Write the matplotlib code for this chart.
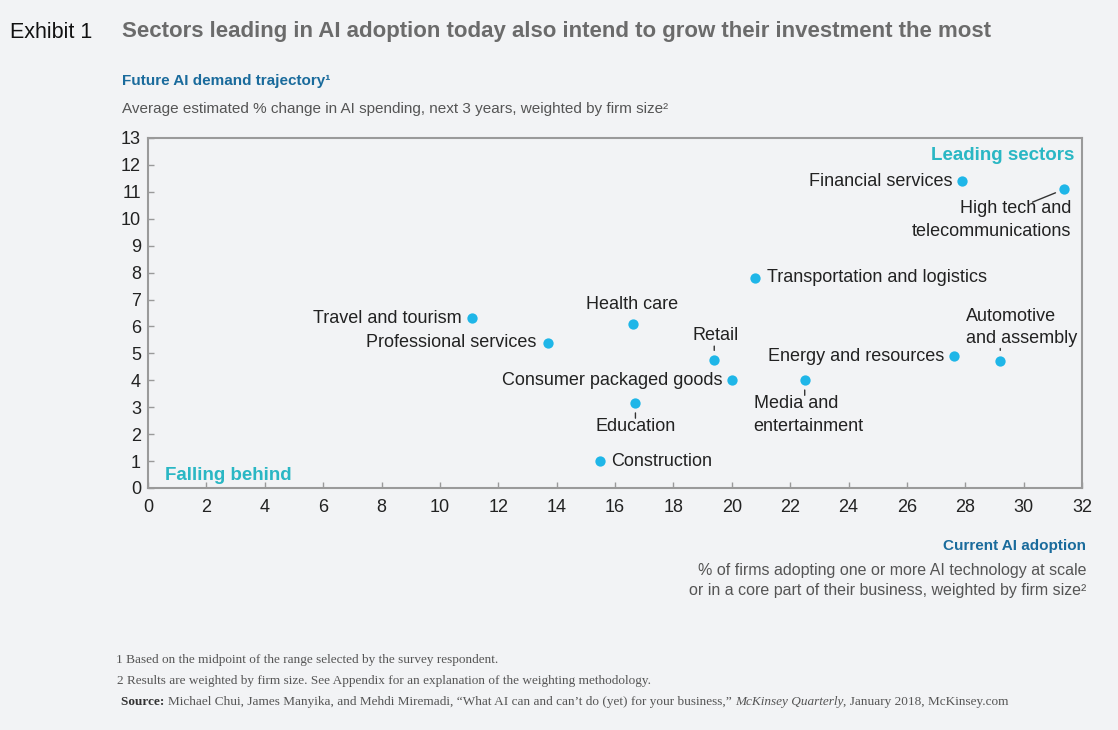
import matplotlib
matplotlib.use("Agg")
import matplotlib.pyplot as plt

# ---- data ----
sectors = ["Financial services", "High tech and\ntelecommunications",
           "Transportation and logistics", "Health care", "Travel and tourism",
           "Professional services", "Retail", "Consumer packaged goods",
           "Education", "Construction", "Media and\nentertainment",
           "Energy and resources", "Automotive\nand assembly"]
adoption = [27.9, 31.4, 20.8, 16.6, 11.1, 13.7, 19.4, 20.0, 16.7, 15.5, 22.5, 27.6, 29.2]
demand = [11.4, 11.1, 7.8, 6.1, 6.3, 5.4, 4.75, 4.0, 3.15, 1.0, 4.0, 4.9, 4.7]
x_ticks = list(range(0, 33, 2))
y_ticks = list(range(0, 14))

# label placement: (dx px, dy px, ha, va, leader line (x0,y0,x1,y1) px or None)
placement = {
    "Financial services": (-10, 0, "right", "center", None),
    "High tech and\ntelecommunications": (7, -11, "right", "top", (-7, -2, -32, -13)),
    "Transportation and logistics": (12, 0, "left", "center", None),
    "Health care": (0, 19, "center", "center", None),
    "Travel and tourism": (-10, 0, "right", "center", None),
    "Professional services": (-11, 0, "right", "center", None),
    "Retail": (1, 25, "center", "center", (0, 7, 0, 14)),
    "Consumer packaged goods": (-9, 0, "right", "center", None),
    "Education": (0, -23, "center", "center", (0, -7, 0, -15)),
    "Construction": (11, 0, "left", "center", None),
    "Media and\nentertainment": (-51, -15, "left", "top", (0, -7, 0, -15)),
    "Energy and resources": (-9, 0, "right", "center", None),
    "Automotive\nand assembly": (-34, 14, "left", "bottom", (0, 8, 0, 13)),
}

BG = "#f2f3f5"
DOT = "#1fb6e8"
TEAL = "#2ab7c4"
BLUE = "#1a6b9c"
FONT = ["Liberation Sans", "DejaVu Sans"]
SERIF = ["Liberation Serif", "DejaVu Serif"]
plt.rcParams["font.family"] = FONT

fig = plt.figure(figsize=(11.18, 7.30), dpi=100, facecolor=BG)
ax = fig.add_axes([148/1118, 1-488/730, (1082-148)/1118, (488-138)/730])
ax.set_facecolor(BG)
ax.set_xlim(0, 32)
ax.set_ylim(0, 13)
ax.set_xticks(x_ticks)
ax.set_yticks(y_ticks)
ax.tick_params(direction="in", length=4, width=1, color="#9a9a9a",
               labelsize=13, labelcolor="#222222")
ax.tick_params(axis="x", pad=8)
ax.tick_params(axis="y", pad=5)
for s in ax.spines.values():
    s.set_color("#9a9a9a")
    s.set_linewidth(1.5)

ax.scatter(adoption, demand, s=55, color=DOT, zorder=3, linewidths=0)

pt = 72 / 100.0
for name, xv, yv in zip(sectors, adoption, demand):
    dx, dy, ha, va, line = placement[name]
    ax.annotate(name, (xv, yv), xytext=(dx*pt, dy*pt), textcoords="offset points",
                ha=ha, va=va, fontsize=13, color="#222222", linespacing=1.45)
    if line is not None:
        x0, y0, x1, y1 = line
        ax.annotate("", xy=(xv, yv), xycoords="data", xytext=(x1*pt, y1*pt),
                    textcoords="offset points",
                    arrowprops=dict(arrowstyle="-", color="#333333", lw=1,
                                    shrinkA=0, shrinkB=abs(y0) if x0 == 0 else 7))

ax.text(0.992, 0.949, "Leading sectors", transform=ax.transAxes, ha="right", va="center",
        fontsize=13.5, fontweight="bold", color=TEAL)
ax.text(0.018, 0.036, "Falling behind", transform=ax.transAxes, ha="left", va="center",
        fontsize=13.5, fontweight="bold", color=TEAL)

# ---- titles ----
fig.text(10/1118, 1-32/730, "Exhibit 1", fontsize=15.5, color="#111111", va="center")
fig.text(122/1118, 1-32/730, "Sectors leading in AI adoption today also intend to grow their investment the most",
         fontsize=16, fontweight="bold", color="#6b6b6b", va="center")
fig.text(122/1118, 1-81/730, "Future AI demand trajectory¹", fontsize=11, fontweight="bold",
         color=BLUE, va="center")
fig.text(122/1118, 1-109/730, "Average estimated % change in AI spending, next 3 years, weighted by firm size²",
         fontsize=11, color="#555555", va="center")

fig.text(1086/1118, 1-546/730, "Current AI adoption", fontsize=11, fontweight="bold",
         color=BLUE, va="center", ha="right")
fig.text(1086/1118, 1-571/730, "% of firms adopting one or more AI technology at scale",
         fontsize=11.5, color="#555555", va="center", ha="right")
fig.text(1086/1118, 1-590/730, "or in a core part of their business, weighted by firm size²",
         fontsize=11.5, color="#555555", va="center", ha="right")

# ---- footnotes ----
FS = 9.5
fig.text(116/1118, 1-660/730, "1 Based on the midpoint of the range selected by the survey respondent.",
         fontsize=FS, family=SERIF, color="#555555", va="center")
fig.text(117/1118, 1-681/730, "2 Results are weighted by firm size. See Appendix for an explanation of the weighting methodology.",
         fontsize=FS, family=SERIF, color="#555555", va="center")
parts = [("Source: ", "bold", "normal", "#333333"),
         ("Michael Chui, James Manyika, and Mehdi Miremadi, \u201cWhat AI can and can\u2019t do (yet) for your business,\u201d ",
          "normal", "normal", "#555555"),
         ("McKinsey Quarterly", "normal", "italic", "#555555"),
         (", January 2018, McKinsey.com", "normal", "normal", "#555555")]
xpos = 121
fig.canvas.draw()
for txt, w, st, c in parts:
    t = fig.text(xpos/1118, 1-702/730, txt, fontsize=FS, family=SERIF, fontweight=w,
                 style=st, color=c, va="center")
    fig.canvas.draw()
    xpos = t.get_window_extent().x1

fig.savefig("out.png", dpi=100, facecolor=BG)
